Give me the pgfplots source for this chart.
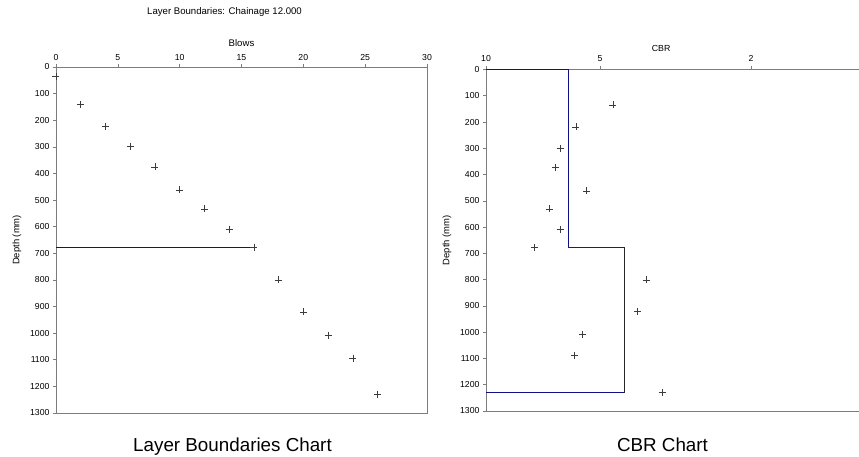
\documentclass[border=0pt]{standalone}
\usepackage{pgfplots}
\pgfplotsset{compat=1.18}
\usepackage{fontspec}
\setmainfont{Liberation Sans}
\definecolor{axgray}{RGB}{125,125,125}
\definecolor{navyl}{RGB}{15,15,135}
\definecolor{markc}{RGB}{60,60,60}
\pgfplotsset{
  common/.style={
    scale only axis,
    y dir=reverse,
    ymin=0, ymax=1300,
    ytick={0,100,...,1300},
    font=\fontsize{8.7}{10}\selectfont,
    /pgf/number format/assume math mode=true,
    /pgf/number format/1000 sep={},
    scaled y ticks=false,
    tick style={axgray, line width=0.6pt},
    major tick length=3pt,
    tick align=outside,
    axis line style={axgray, line width=0.8pt},
    xticklabel pos=right,
    xtick pos=right,
    ytick pos=left,
    every axis y label/.style={at={([xshift=-39pt]axis description cs:0,0.5)}, rotate=90, anchor=center, font=\fontsize{9.4}{11}\selectfont},
    ylabel={Depth (mm)},
    mark options={markc, line width=0.5pt},
  }
}
\begin{document}
\begin{tikzpicture}
\path[use as bounding box] (0,0) rectangle (859pt,457pt);
\begin{axis}[common,
  at={(56pt,44pt)}, anchor=south west,
  width=371pt, height=346pt,
  xmin=0, xmax=30, xtick={0,5,...,30},
  xticklabel style={yshift=-0.5pt},
  every axis x label/.style={at={([yshift=20.3pt]axis description cs:0.5,1)}, anchor=base, font=\fontsize{9.6}{11}\selectfont},
  xlabel={Blows},
]
\addplot[navyl, line width=0.9pt] coordinates {(0,677) (16,677)};
\addplot[only marks, mark=+, mark size=3.5pt] coordinates {
(0,35) (2,140) (4,222) (6,297) (8,375) (10,462) (12,533) (14,609) (16,677)
(18,800) (20,920) (22,1007) (24,1094) (26,1229)};
\end{axis}
\begin{axis}[common,
  at={(486pt,46pt)}, anchor=south west,
  width=379pt, height=341.5pt,
  xmode=log, x dir=reverse,
  xmin=1, xmax=10, xtick={10,5,2}, xticklabels={10,5,2},
  minor xtick={},
  xticklabel style={yshift=1.5pt},
  every axis x label/.style={at={([yshift=17.8pt]axis description cs:0.462,1)}, anchor=base, font=\fontsize{8.8}{11}\selectfont},
  xlabel={CBR},
]
\addplot[navyl, line width=0.9pt] coordinates {(10,0) (6.07,0) (6.07,677)};
\addplot[black!85, line width=0.8pt] coordinates {(6.07,677) (4.32,677) (4.32,1230)};
\addplot[navyl, line width=0.9pt] coordinates {(4.32,1230) (10,1230)};
\addplot[only marks, mark=+, mark size=3.5pt] coordinates {
(4.63,135) (5.79,218) (6.37,300) (6.55,372) (5.43,462) (6.82,531) (6.37,610)
(7.46,677) (3.77,801) (3.98,922) (5.57,1008) (5.85,1089) (3.43,1230)};
\end{axis}
\node[anchor=base] at (224.5pt,442.5pt) {\fontsize{9.6}{11}\selectfont Layer Boundaries: Chainage 12.000};
\node[anchor=base] at (232.5pt,5.5pt) {\fontsize{18.8}{22}\selectfont Layer Boundaries Chart};
\node[anchor=base] at (662.5pt,5.5pt) {\fontsize{18.8}{22}\selectfont CBR Chart};
\end{tikzpicture}
\end{document}
